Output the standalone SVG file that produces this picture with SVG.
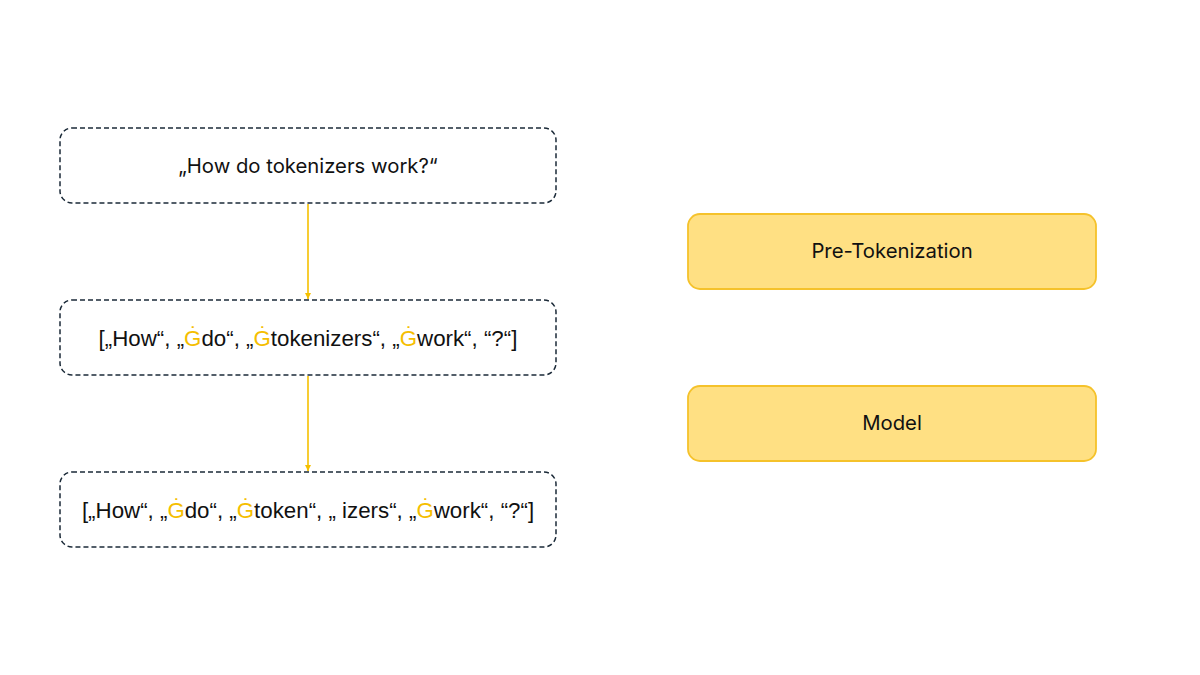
<svg xmlns="http://www.w3.org/2000/svg" width="1200" height="675" viewBox="0 0 1200 675">
<style>
.dash{fill:#ffffff;stroke:#1b2a38;stroke-width:1.5;stroke-dasharray:5,3}
.solid{fill:#FFE083;stroke:#F5C22B;stroke-width:1.8}
.t{font-family:"Liberation Sans",Arial,sans-serif;font-size:22.3px;fill:#111;text-anchor:middle}
.ti{font-family:Inter,"Liberation Sans",sans-serif;font-size:20.3px;fill:#111;text-anchor:middle}
.g{fill:#F5BE00}
.conn{stroke:#F5C000;stroke-width:1.6;fill:none}
</style>
<defs>
<marker id="ah" viewBox="0 0 10 10" refX="10" refY="5" markerWidth="6" markerHeight="6" orient="auto" markerUnits="userSpaceOnUse">
<path d="M0,0 L10,5 L0,10 z" fill="#F5C000"/>
</marker>
</defs>
<rect width="1200" height="675" fill="#ffffff"/>
<g id="connectors">
<line class="conn" x1="308" y1="204" x2="308" y2="299" marker-end="url(#ah)"/>
<line class="conn" x1="308" y1="376" x2="308" y2="471" marker-end="url(#ah)"/>
</g>
<g id="input">
<rect class="dash" x="60" y="128" width="496" height="75" rx="12"/>
<text class="ti" x="308" y="173">„How do tokenizers work?“</text>
</g>
<g id="pretokens">
<rect class="dash" x="60" y="300" width="496" height="75" rx="12"/>
<text class="t" x="308" y="346">[„How“, „<tspan class="g">Ġ</tspan>do“, „<tspan class="g">Ġ</tspan>tokenizers“, „<tspan class="g">Ġ</tspan>work“, “?“]</text>
</g>
<g id="tokens">
<rect class="dash" x="60" y="472" width="496" height="75" rx="12"/>
<text class="t" x="308" y="518">[„How“, „<tspan class="g">Ġ</tspan>do“, „<tspan class="g">Ġ</tspan>token“, „ izers“, „<tspan class="g">Ġ</tspan>work“, “?“]</text>
</g>
<g id="pretokenization">
<rect class="solid" x="688" y="214" width="408" height="75" rx="12"/>
<text class="ti" x="892" y="258">Pre-Tokenization</text>
</g>
<g id="model">
<rect class="solid" x="688" y="386" width="408" height="75" rx="12"/>
<text class="ti" x="892" y="430">Model</text>
</g>
</svg>
